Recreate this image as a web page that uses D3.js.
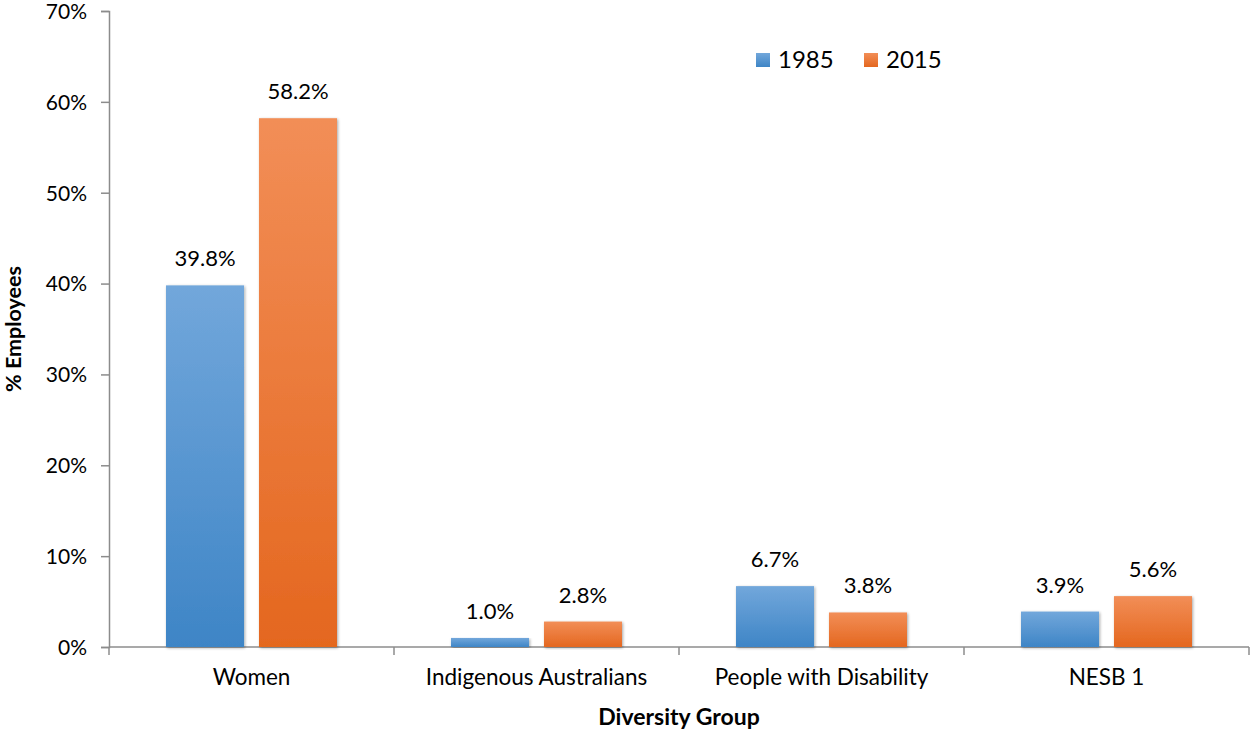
<!DOCTYPE html>
<html>
<head>
<meta charset="UTF-8">
<title>Diversity Group</title>
<script src="https://cdn.jsdelivr.net/npm/d3@7"></script>
<style>
  body { margin: 0; background: #fff; }
  text { font-family: Lato, "Open Sans", sans-serif; fill: #000; }
</style>
</head>
<body>
<svg width="1251" height="729"></svg>
<script>
// data
var categories = ["Women", "Indigenous Australians", "People with Disability", "NESB 1"];
var seriesNames = ["1985", "2015"];
var values1985 = [39.8, 1.0, 6.7, 3.9];
var values2015 = [58.2, 2.8, 3.8, 5.6];
var yTicks = [0, 10, 20, 30, 40, 50, 60, 70];

var svg = d3.select("svg");
var margin = {top: 11, right: 2, bottom: 82, left: 109};
var width = +svg.attr("width") - margin.left - margin.right;
var height = +svg.attr("height") - margin.top - margin.bottom;

var rows = categories.map(function(c, i) {
  return {name: c, values: [
    {key: "1985", value: values1985[i]},
    {key: "2015", value: values2015[i]}
  ]};
});

// gradients + shadow
var defs = svg.append("defs");
var grads = {"1985": ["#72a7db", "#3e85c6"], "2015": ["#f28e57", "#e4671f"]};
Object.keys(grads).forEach(function(k) {
  var lg = defs.append("linearGradient")
    .attr("id", "g" + k)
    .attr("x1", 0).attr("y1", 0).attr("x2", 0).attr("y2", 1);
  lg.append("stop").attr("offset", "0%").attr("stop-color", grads[k][0]);
  lg.append("stop").attr("offset", "100%").attr("stop-color", grads[k][1]);
});
var f = defs.append("filter").attr("id", "shadow")
  .attr("x", "-10%").attr("y", "-10%").attr("width", "120%").attr("height", "120%");
f.append("feGaussianBlur").attr("in", "SourceAlpha").attr("stdDeviation", 1.5).attr("result", "b");
f.append("feOffset").attr("in", "b").attr("dx", 1).attr("dy", 1).attr("result", "o");
f.append("feComponentTransfer").attr("in", "o").attr("result", "s")
  .append("feFuncA").attr("type", "linear").attr("slope", 0.35);
var fm = f.append("feMerge");
fm.append("feMergeNode").attr("in", "s");
fm.append("feMergeNode").attr("in", "SourceGraphic");

var g = svg.append("g")
  .attr("transform", "translate(" + margin.left + "," + margin.top + ")");

var x0 = d3.scaleBand().domain(categories).range([0, width]);
var x1 = d3.scaleBand().domain(seriesNames).range([0, x0.bandwidth()])
  .paddingInner(0.161).paddingOuter(0.613);
var y = d3.scaleLinear().domain([0, 70]).range([height, 0]);

// y axis
var yAxis = g.append("g")
  .call(d3.axisLeft(y).tickValues(yTicks).tickSize(8).tickPadding(14)
    .tickFormat(function(d) { return d + "%"; }));
yAxis.selectAll("text").style("font-size", "21px").attr("dy", "0.35em");

// x axis
var xAxis = g.append("g")
  .attr("transform", "translate(0," + height + ")")
  .call(d3.axisBottom(x0).tickSize(0).tickPadding(22));
xAxis.selectAll("text").style("font-size", "22.5px");
xAxis.select(".domain").remove();
// boundary ticks between categories
var bounds = categories.map(function(c) { return x0(c); }).concat([width]);
xAxis.selectAll(".bound").data(bounds).enter().append("line")
  .attr("class", "bound")
  .attr("x1", function(d) { return d; }).attr("x2", function(d) { return d; })
  .attr("y1", 0).attr("y2", 8);
xAxis.append("line").attr("class", "base")
  .attr("x1", 0).attr("x2", width).attr("y1", 0).attr("y2", 0);

svg.selectAll(".domain, .tick line, .bound, .base")
  .attr("stroke", "#8c8c8c").attr("stroke-width", 1.5);

// bars
var groups = g.selectAll(".cat").data(rows).enter().append("g")
  .attr("class", "cat")
  .attr("transform", function(d) { return "translate(" + x0(d.name) + ",0)"; });

groups.selectAll("rect").data(function(d) { return d.values; }).enter().append("rect")
  .attr("x", function(d) { return x1(d.key); })
  .attr("y", function(d) { return y(d.value); })
  .attr("width", x1.bandwidth())
  .attr("height", function(d) { return height - y(d.value); })
  .attr("fill", function(d) { return "url(#g" + d.key + ")"; })
  .attr("filter", "url(#shadow)");

groups.selectAll(".lbl").data(function(d) { return d.values; }).enter().append("text")
  .attr("class", "lbl")
  .attr("x", function(d) { return x1(d.key) + x1.bandwidth() / 2; })
  .attr("y", function(d) { return y(d.value) - 19; })
  .attr("text-anchor", "middle")
  .style("font-size", "22px")
  .text(function(d) { return d.value.toFixed(1) + "%"; });

// axis titles
svg.append("text")
  .attr("transform", "translate(21," + (margin.top + height / 2) + ") rotate(-90)")
  .attr("text-anchor", "middle")
  .style("font-size", "21.5px").style("font-weight", "bold")
  .text("% Employees");
svg.append("text")
  .attr("x", margin.left + width / 2).attr("y", 725)
  .attr("text-anchor", "middle")
  .style("font-size", "23px").style("font-weight", "bold")
  .text("Diversity Group");

// legend
var legend = svg.append("g").attr("transform", "translate(756,53)");
var li = legend.selectAll("g").data(seriesNames).enter().append("g")
  .attr("transform", function(d, i) { return "translate(" + (i * 108) + ",0)"; });
li.append("rect").attr("width", 14).attr("height", 14)
  .attr("fill", function(d) { return "url(#g" + d + ")"; });
li.append("text").attr("x", 22).attr("y", 15)
  .style("font-size", "24px")
  .text(function(d) { return d; });
</script>
</body>
</html>
